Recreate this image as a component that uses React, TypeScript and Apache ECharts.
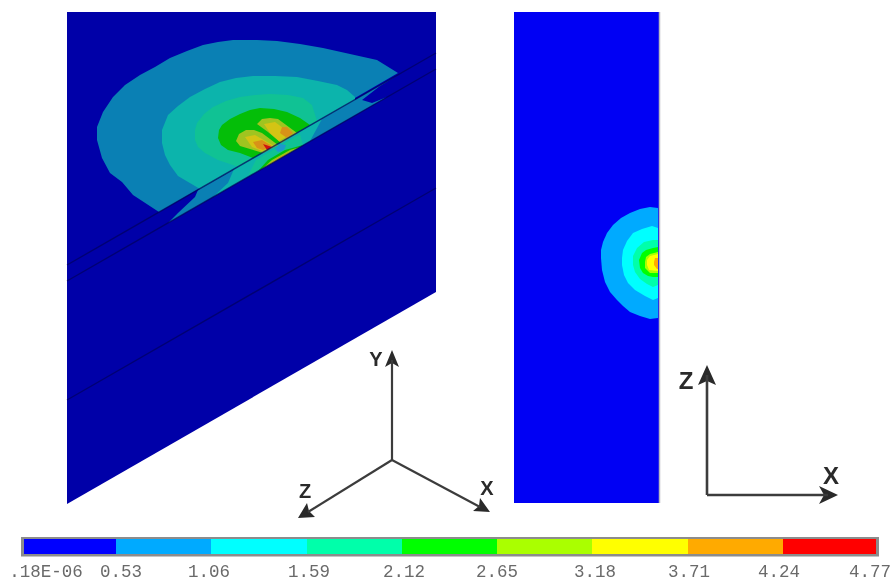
import React, { useEffect, useRef } from "react";
import * as echarts from "echarts";

type Pt = [number, number];

// Contour-band boundaries (picture units: x right, y down)
const isoPlate: Pt[] = [[67,12],[436,12],[436,292],[67,504]];
const isoBand: Pt[] = [[168,223],[178,213],[195,197],[198,190],[398,75],[380,86],[362,100],[372,103],[387,97]];
const isoOuter: Pt[] = [[159,212],[133,195],[122,182],[110,173],[102,158],[97,140],[97,127],[103,112],[113,97],[125,85],[140,75],[155,67],[170,58],[187,51],[203,45],[218,42],[233,40],[257,40],[277,41],[300,44],[323,48],[350,54],[377,60],[398,73]];
const isoTeal: Pt[] = [[178,176],[170,165],[165,155],[162,143],[162,130],[168,115],[178,106],[190,97],[205,89],[220,82],[236,78],[253,76],[275,76],[297,77],[318,81],[337,85],[347,90],[355,97],[355,100],[200,189]];
const isoMid: Pt[] = [[195,140],[195,130],[197,123],[204,114],[213,107],[226,101],[240,97],[255,95],[270,94],[288,95],[303,98],[312,105],[317,121],[238,167],[233,165],[218,160],[205,153],[198,147]];
const isoGreen: Pt[] = [[218,138],[219,130],[222,125],[230,119],[240,114],[250,110],[260,108],[274,109],[287,112],[300,118],[310,125],[253,158],[240,153],[228,150],[221,145]];
const lobeAOuter: Pt[] = [[236,141],[239,134],[246,130],[254,130],[262,133],[278,145],[263,153],[250,149],[240,146]];
const lobeAYellow: Pt[] = [[245,137],[255,135],[274,146],[262,151],[252,147]];
const lobeAOrange: Pt[] = [[253,142],[262,140],[272,146],[263,150],[257,148]];
const lobeARed: Pt[] = [[263,144],[272,147],[267,150]];
const lobeBOuter: Pt[] = [[257,124],[262,119],[270,118],[278,119],[297,133],[281,143],[268,132]];
const lobeBYellow: Pt[] = [[264,124],[275,122],[291,134],[279,141],[270,133]];
const lobeBOrange: Pt[] = [[282,127],[287,127],[293,133],[287,138],[280,133]];
const bandTeal: Pt[] = [[213,197],[228,183],[234,169],[322,119],[310,141]];
const bandMid: Pt[] = [[248,176],[256,160],[300,134],[303,145]];
const bandGreen: Pt[] = [[258,171],[268,160],[285,150],[303,145]];
const bandLime: Pt[] = [[262,169],[272,160],[290,150],[300,147]];
const bandYellow: Pt[] = [[265,167],[275,160],[290,152],[297,148]];
const bandOrange: Pt[] = [[268,165],[280,157],[292,151]];
const bandDot: Pt[] = [[275,149],[280,144],[286,145],[284,150],[278,152]];

const planPlate: Pt[] = [[514,12],[659,12],[659,503],[514,503]];
const planOuter: Pt[] = [[650,207],[640,209],[630,213],[621,218],[613,225],[607,233],[603,242],[601,250],[601,258],[602,270],[605,282],[610,292],[617,300],[623,306],[630,312],[640,316],[650,319],[658,318],[658,208]];
const planCyan: Pt[] = [[652,226],[642,229],[633,233],[627,241],[623,250],[622,258],[622,265],[624,275],[628,283],[635,290],[645,296],[653,300],[658,298],[658,228]];
const planMid: Pt[] = [[653,240],[644,242],[637,248],[633,256],[633,265],[635,272],[640,279],[647,284],[653,287],[658,285],[658,240]];
const planGreen: Pt[] = [[653,248],[646,250],[642,253],[639,260],[640,268],[643,273],[648,276],[653,277],[658,277],[658,247]];
const planLime: Pt[] = [[650,254],[646,257],[645,262],[645,268],[650,273],[658,273],[658,252]];
const planYellow: Pt[] = [[650,256],[647,260],[647,265],[649,270],[658,271],[658,254]];
const planOrange: Pt[] = [[655,258],[654,262],[654,265],[657,269],[658,269],[658,258]];

const edgeOne: Pt[] = [[67,265],[436,53]];
const edgeTwo: Pt[] = [[67,281],[436,69]];
const edgeThree: Pt[] = [[67,400],[436,188]];
const planEdge: Pt[] = [[659.5,12],[659.5,503]];

const triadY: Pt[] = [[392,460],[392,360]];
const triadX: Pt[] = [[392,460],[480,507]];
const triadZ: Pt[] = [[392,460],[308,512]];
const triadYHead: Pt[] = [[392,350],[385,367],[392,363],[399,367]];
const triadXHead: Pt[] = [[490,512],[473,511],[479,506],[480,498]];
const triadZHead: Pt[] = [[298,518],[315,517],[309,511],[307,503]];
const planAxisZ: Pt[] = [[707,495],[707,375]];
const planAxisX: Pt[] = [[707,495],[828,495]];
const planAxisZHead: Pt[] = [[707,365],[698,385],[707,381],[716,385]];
const planAxisXHead: Pt[] = [[838,495],[819,486],[824,495],[819,504]];

const axisNames = ["Y", "X", "Z", "Z", "X"];
const axisNameX = [376, 487, 305, 686, 831];
const axisNameY = [359, 488, 491, 380, 475];
const axisNameSizes = [20, 20, 20, 24, 24];

// Legend
const legendEdges = [24, 116, 211, 307, 402, 497, 592, 688, 783, 876];
const legendColors = ["#0000ff", "#00aaff", "#00ffff", "#00ffaa", "#00ff00", "#aaff00", "#ffff00", "#ffaa00", "#ff0000"];
const legendLabels = [".18E-06", "0.53", "1.06", "1.59", "2.12", "2.65", "3.18", "3.71", "4.24", "4.77"];
const legendLabelX = [46, 121, 209, 309, 404, 497, 595, 689, 779, 870];

const fills: { pts: Pt[]; fill: string }[] = [
  { pts: isoPlate, fill: "#0000a8" },
  { pts: isoOuter, fill: "#0a80b4" },
  { pts: isoBand, fill: "#0a80b4" },
  { pts: bandTeal, fill: "#0cb4ac" },
  { pts: isoTeal, fill: "#0cb4ac" },
  { pts: isoMid, fill: "#10c294" },
  { pts: isoGreen, fill: "#04be08" },
  { pts: bandMid, fill: "#10c294" },
  { pts: bandGreen, fill: "#04be08" },
  { pts: bandLime, fill: "#98c818" },
  { pts: bandYellow, fill: "#dcc810" },
  { pts: bandOrange, fill: "#dc9414" },
  { pts: bandDot, fill: "#1c98cc" },
  { pts: lobeAOuter, fill: "#a0c420" },
  { pts: lobeBOuter, fill: "#a0c420" },
  { pts: lobeAYellow, fill: "#d4c414" },
  { pts: lobeBYellow, fill: "#d4c414" },
  { pts: lobeAOrange, fill: "#d89218" },
  { pts: lobeBOrange, fill: "#d89218" },
  { pts: lobeARed, fill: "#d01010" },
  { pts: planPlate, fill: "#0000f4" },
  { pts: planOuter, fill: "#00aaff" },
  { pts: planCyan, fill: "#00ffff" },
  { pts: planMid, fill: "#00ffaa" },
  { pts: planGreen, fill: "#00ff00" },
  { pts: planLime, fill: "#aaff00" },
  { pts: planYellow, fill: "#ffff00" },
  { pts: planOrange, fill: "#ffaa00" },
  { pts: triadYHead, fill: "#2a2a2a" },
  { pts: triadXHead, fill: "#2a2a2a" },
  { pts: triadZHead, fill: "#2a2a2a" },
  { pts: planAxisZHead, fill: "#2a2a2a" },
  { pts: planAxisXHead, fill: "#2a2a2a" },
];

const strokes: { pts: Pt[]; color: string; width: number; opacity: number }[] = [
  { pts: edgeOne, color: "#00005c", width: 1.4, opacity: 0.7 },
  { pts: edgeTwo, color: "#00005c", width: 1.4, opacity: 0.7 },
  { pts: edgeThree, color: "#00005c", width: 1.4, opacity: 0.7 },
  { pts: planEdge, color: "#b8b8c0", width: 1.5, opacity: 1 },
  { pts: triadY, color: "#3c3c3c", width: 2.2, opacity: 1 },
  { pts: triadX, color: "#3c3c3c", width: 2.2, opacity: 1 },
  { pts: triadZ, color: "#3c3c3c", width: 2.2, opacity: 1 },
  { pts: planAxisZ, color: "#3c3c3c", width: 2.6, opacity: 1 },
  { pts: planAxisX, color: "#3c3c3c", width: 2.6, opacity: 1 },
];

export default function App() {
  const ref = useRef<HTMLDivElement>(null);
  useEffect(() => {
    document.body.style.margin = "0";
    const chart = echarts.init(ref.current!, undefined, { renderer: "svg" });
    const toPoints = (api: any, pts: Pt[]) => pts.map((p) => api.coord(p));
    const hidden = { show: false };
    chart.setOption({
      animation: false,
      backgroundColor: "#ffffff",
      grid: { left: 0, right: 0, top: 0, bottom: 0 },
      xAxis: { type: "value", min: 0, max: 892, axisLine: hidden, axisTick: hidden, axisLabel: hidden, splitLine: hidden },
      yAxis: { type: "value", min: 0, max: 581, inverse: true, axisLine: hidden, axisTick: hidden, axisLabel: hidden, splitLine: hidden },
      series: [
        {
          type: "custom",
          silent: true,
          data: fills.map((f, i) => [f.pts[0][0], f.pts[0][1], i]),
          renderItem: (_: any, api: any) => {
            const f = fills[api.value(2)];
            return { type: "polygon", shape: { points: toPoints(api, f.pts) }, style: { fill: f.fill } };
          },
        },
        {
          type: "custom",
          silent: true,
          data: strokes.map((s, i) => [s.pts[0][0], s.pts[0][1], i]),
          renderItem: (_: any, api: any) => {
            const s = strokes[api.value(2)];
            return {
              type: "polyline",
              shape: { points: toPoints(api, s.pts) },
              style: { fill: "none", stroke: s.color, lineWidth: s.width, opacity: s.opacity },
            };
          },
        },
        {
          // Legend colour cells
          type: "custom",
          silent: true,
          data: legendColors.map((c, i) => [legendEdges[i], legendEdges[i + 1], i]),
          renderItem: (_: any, api: any) => {
            const a = api.coord([api.value(0), 539]);
            const b = api.coord([api.value(1), 554]);
            return {
              type: "rect",
              shape: { x: a[0], y: a[1], width: b[0] - a[0], height: b[1] - a[1] },
              style: { fill: legendColors[api.value(2)] },
            };
          },
        },
        {
          type: "custom",
          silent: true,
          data: legendLabels.map((_, i) => [legendLabelX[i], 572, i]),
          renderItem: (_: any, api: any) => {
            const p = api.coord([api.value(0), api.value(1)]);
            return {
              type: "text",
              x: p[0],
              y: p[1],
              style: {
                text: legendLabels[api.value(2)],
                fill: "#6a6a6a",
                font: "17.5px 'Liberation Mono'",
                align: "center",
                verticalAlign: "middle",
              },
            };
          },
        },
        {
          type: "custom",
          silent: true,
          data: axisNames.map((_, i) => [axisNameX[i], axisNameY[i], i]),
          renderItem: (_: any, api: any) => {
            const p = api.coord([api.value(0), api.value(1)]);
            const i = api.value(2);
            return {
              type: "text",
              x: p[0],
              y: p[1],
              style: {
                text: axisNames[i],
                fill: "#2a2a2a",
                font: `bold ${axisNameSizes[i]}px 'Liberation Sans'`,
                align: "center",
                verticalAlign: "middle",
              },
            };
          },
        },
      ],
      graphic: [
        {
          type: "rect",
          z: -1,
          silent: true,
          shape: { x: 21, y: 537, width: 858, height: 19.5 },
          style: { fill: "#8c8c8c" },
        },
      ],
    });
    return () => chart.dispose();
  }, []);
  return (
    <div
      ref={ref}
      style={{ position: "fixed", left: 0, top: 0, width: 892, height: 581, filter: "blur(0.6px)" }}
    />
  );
}
